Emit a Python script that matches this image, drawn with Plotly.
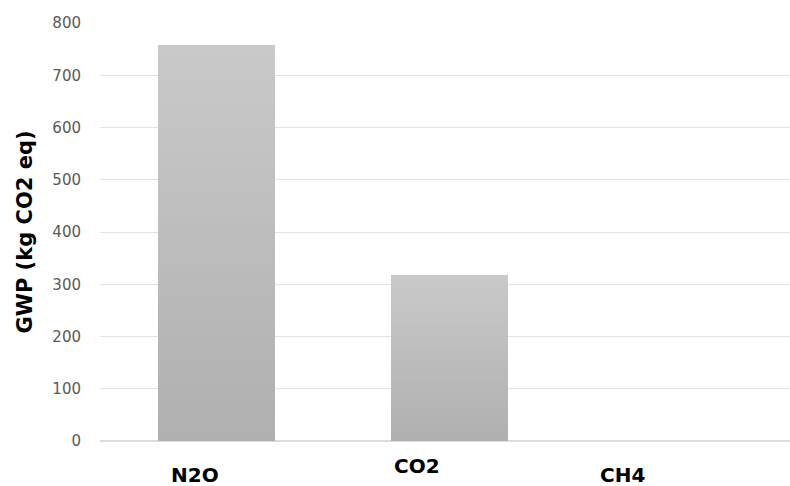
import plotly.graph_objects as go

# Global warming potential by gas
gases = ["N2O", "CO2", "CH4"]
gwp = [757, 318, 0]
y_ticks = [0, 100, 200, 300, 400, 500, 600, 700, 800]

# Label placement tweaks (pixels) for the category captions
label_xshift = [-22, -33, -60]
label_yshift = [-34, -25, -34]

FONT = "DejaVu Sans, Verdana, sans-serif"

fig = go.Figure()

# Vertical gradient fill: overlay progressively shorter bars, light on top, darker at the base
steps = 40
top_rgb = (201, 201, 201)
bot_rgb = (176, 176, 176)
for k in range(steps):
    frac = 1 - k / steps
    t = k / (steps - 1)
    c = tuple(round(top_rgb[i] + (bot_rgb[i] - top_rgb[i]) * t) for i in range(3))
    fig.add_trace(go.Bar(
        x=gases,
        y=[v * frac for v in gwp],
        width=0.5,
        marker=dict(color="rgb(%d,%d,%d)" % c, line=dict(width=0)),
        showlegend=False,
        hoverinfo="skip" if k else "x+y",
    ))

for g, dx, dy in zip(gases, label_xshift, label_yshift):
    fig.add_annotation(
        x=g, y=0, xref="x", yref="y",
        text="<b>%s</b>" % g, showarrow=False,
        xshift=dx, yshift=dy,
        font=dict(family=FONT, size=20, color="#000000"),
    )

fig.update_layout(
    width=790, height=486,
    margin=dict(l=100, r=0, t=23, b=45),
    paper_bgcolor="white", plot_bgcolor="white",
    barmode="overlay",
    bargap=0,
    xaxis=dict(
        range=[-0.5, 2.46], showticklabels=False, showgrid=False,
        zeroline=False, showline=False, fixedrange=True,
    ),
    yaxis=dict(
        range=[0, 800], tickvals=y_ticks,
        showgrid=True, gridcolor="#e3e3e3", gridwidth=1,
        zeroline=True, zerolinecolor="#dcdcdc", zerolinewidth=1.5,
        showline=False,
        ticklabelstandoff=18,
        tickfont=dict(family=FONT, size=15, color="#595959"),
        title=dict(
            text="<b>GWP (kg CO2 eq)</b>", standoff=14,
            font=dict(family=FONT, size=21, color="#000000"),
        ),
    ),
)

fig.write_html("out.html")
